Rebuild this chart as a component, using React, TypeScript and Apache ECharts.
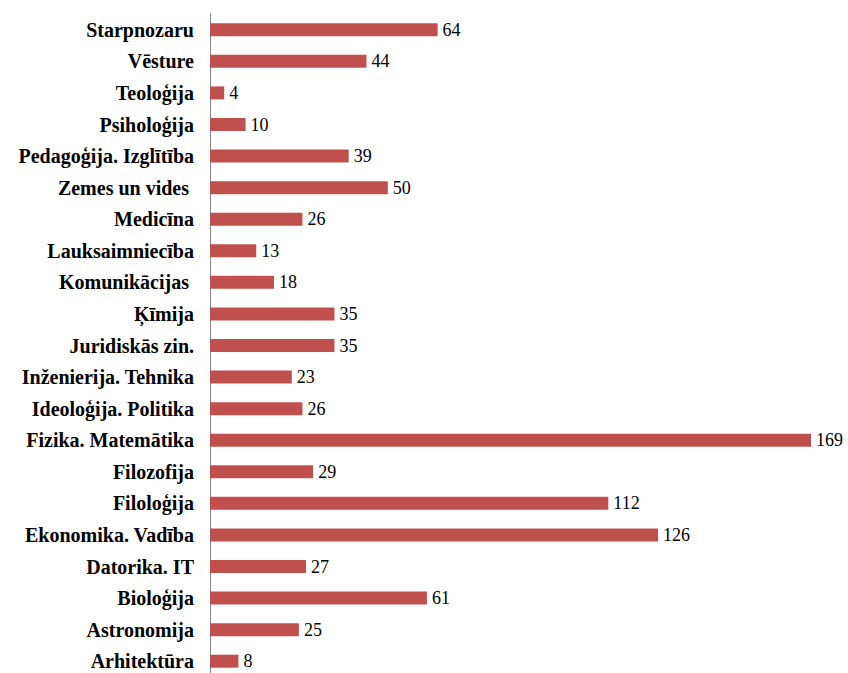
import React, { useEffect, useRef } from "react";
import * as echarts from "echarts";

const categories = [
  "Arhitektūra",
  "Astronomija",
  "Bioloģija",
  "Datorika. IT",
  "Ekonomika. Vadība",
  "Filoloģija",
  "Filozofija",
  "Fizika. Matemātika",
  "Ideoloģija. Politika",
  "Inženierija. Tehnika",
  "Juridiskās zin.",
  "Ķīmija",
  "Komunikācijas ",
  "Lauksaimniecība",
  "Medicīna",
  "Zemes un vides ",
  "Pedagoģija. Izglītība",
  "Psiholoģija",
  "Teoloģija",
  "Vēsture",
  "Starpnozaru",
];

const values = [8, 25, 61, 27, 126, 112, 29, 169, 26, 23, 35, 35, 18, 13, 26, 50, 39, 10, 4, 44, 64];

const SERIF = "Liberation Serif";

export default function App() {
  const ref = useRef<HTMLDivElement>(null);
  useEffect(() => {
    if (!ref.current) return;
    const chart = echarts.init(ref.current, undefined, { renderer: "svg" });
    chart.setOption({
      animation: false,
      backgroundColor: "#ffffff",
      grid: { left: 210, top: 14, width: 601, height: 663, containLabel: false },
      xAxis: {
        type: "value",
        min: 0,
        max: 169,
        show: false,
      },
      yAxis: {
        type: "category",
        data: categories,
        axisLine: { show: true, lineStyle: { color: "#868686", width: 1 } },
        axisTick: { show: false },
        axisLabel: {
          margin: 16,
          fontFamily: SERIF,
          fontWeight: "bold",
          fontSize: 20,
          color: "#000000",
        },
      },
      series: [
        {
          type: "bar",
          data: values,
          barWidth: 13,
          itemStyle: { color: "#C0504D" },
          label: {
            show: true,
            position: "right",
            distance: 5,
            fontFamily: SERIF,
            fontSize: 18,
            color: "#000000",
          },
        },
      ],
    });
    return () => chart.dispose();
  }, []);
  return (
    <div
      ref={ref}
      style={{ position: "fixed", left: 0, top: 0, width: 848, height: 700 }}
    />
  );
}
